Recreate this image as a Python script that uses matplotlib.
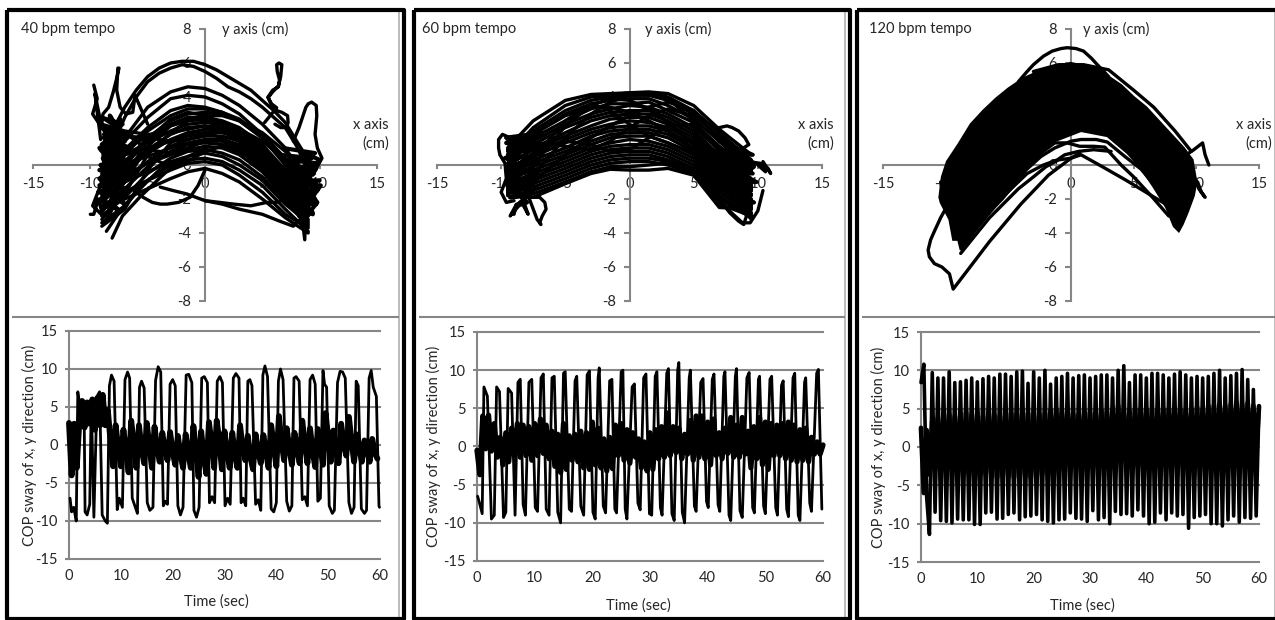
import matplotlib
matplotlib.use('Agg')
import matplotlib.pyplot as plt
from matplotlib.lines import Line2D
import numpy as np

W, H = 1275, 620
GREY = '#868686'
TXT = '#262626'
plt.rcParams['font.family'] = ['Lato', 'DejaVu Sans']
plt.rcParams['font.size'] = 10.5
plt.rcParams['axes.unicode_minus'] = False

x_ticks_top = [-15, -10, -5, 0, 5, 10, 15]
y_ticks_top = [-8, -6, -4, -2, 0, 2, 4, 6, 8]
t_ticks = [0, 10, 20, 30, 40, 50, 60]
y_ticks_low = [-15, -10, -5, 0, 5, 10, 15]

# ---- 40 bpm, x-y trace: heights of the sweeps at fixed x positions
p1_x = [-9, -7, -5, -3, -1.5, 0, 1.5, 3, 5, 7, 9]
p1_sweeps = [
    [-0.3, 1.6, 3.4, 4.3, 4.6, 4.5, 4.1, 3.5, 2.4, 1.0, -1.0],
    [-0.2, 1.4, 2.8, 3.9, 4.1, 4.0, 3.6, 3.0, 1.8, 0.4, -1.3],
    [-0.6, 0.9, 2.2, 3.2, 3.5, 3.4, 3.1, 2.6, 1.6, 0.2, -1.5],
    [-0.9, 0.6, 2.0, 2.9, 3.3, 3.3, 3.1, 2.7, 1.7, 0.1, -1.8],
    [-1.1, 0.2, 1.6, 2.6, 3.0, 3.1, 3.0, 2.6, 1.6, 0.0, -2.0],
    [-1.3, 0.0, 1.4, 2.4, 2.8, 2.8, 2.6, 2.2, 1.2, -0.3, -2.2],
    [-0.5, 0.9, 1.7, 2.3, 2.6, 2.7, 2.5, 2.0, 1.0, -0.4, -2.0],
    [-1.0, 0.6, 1.3, 2.0, 2.4, 2.5, 2.4, 2.0, 1.1, -0.5, -2.4],
    [-1.6, -0.2, 0.9, 1.8, 2.2, 2.3, 2.2, 1.8, 0.8, -0.7, -2.6],
    [-2.0, -0.4, 0.7, 1.5, 1.9, 2.1, 2.1, 1.8, 0.9, -0.9, -2.8],
    [-0.8, 0.6, 1.0, 1.4, 1.7, 1.9, 1.9, 1.6, 0.6, -1.0, -2.5],
    [-2.2, -1.0, 0.2, 1.1, 1.5, 1.7, 1.7, 1.4, 0.4, -1.2, -3.0],
    [-1.2, 0.1, 0.5, 1.0, 1.3, 1.5, 1.5, 1.2, 0.2, -1.4, -2.9],
    [-2.6, -1.4, -0.1, 0.8, 1.2, 1.3, 1.2, 0.8, -0.1, -1.7, -3.2],
    [-1.8, -0.6, 0.1, 0.6, 0.9, 1.1, 1.0, 0.6, -0.4, -1.9, -3.3],
    [-3.0, -1.9, -0.5, 0.4, 0.8, 0.9, 0.7, 0.3, -0.7, -2.1, -3.6],
    [-2.0, -1.0, -0.4, 0.2, 0.5, 0.7, 0.5, 0.0, -0.9, -2.3, -3.4],
    [-3.4, -2.4, -0.9, 0.0, 0.3, 0.4, 0.2, -0.3, -1.2, -2.6, -3.9],
    [-2.4, -1.6, -0.9, -0.3, 0.1, 0.2, 0.0, -0.6, -1.6, -2.9, -3.7],
    [-2.6, -2.0, -1.4, -0.8, -0.4, -0.2, -0.5, -1.0, -2.0, -3.1, -4.0],
    # sweeps that cross the others
    [-3.2, -1.7, 0.6, 1.9, 2.6, 2.9, 2.9, 2.6, 1.9, 0.8, -0.6],
    [2.4, 2.0, 1.8, 1.9, 2.1, 2.3, 2.0, 1.4, 0.2, -1.5, -3.0],
    [-2.8, -1.0, 1.1, 2.3, 2.7, 2.6, 2.2, 1.6, 0.5, -0.6, -1.2],
    [1.6, 1.7, 1.6, 1.4, 1.5, 1.8, 2.2, 2.1, 1.4, 0.3, -1.8],
    [-3.6, -2.6, -0.3, 1.3, 1.8, 1.9, 1.6, 1.0, 0.0, -0.9, -0.8],
    [2.8, 1.9, 0.9, 0.7, 1.0, 1.4, 1.4, 0.9, -0.3, -2.0, -3.5],
    [-1.5, -0.8, 1.5, 2.7, 3.1, 2.9, 2.5, 1.9, 0.6, -1.1, -1.9],
    [0.9, 1.1, 0.5, -0.1, 0.2, 0.8, 1.1, 0.8, 0.1, -1.2, -2.6],
]
p1_extra_x = [
    [-8.9, -8.0, -7.0, -6.0, -5.0, -4.0, -3.0, -2.0, -1.0, 0.0, 1.0, 2.0, 3.0, 4.0, 5.0, 6.0, 7.0, 8.0, 9.0],
    [-8.8, -8.0, -7.0, -6.0, -5.0, -4.0, -3.0, -2.0, -1.0, 0.0, 1.0, 2.0, 3.0, 4.0, 5.0, 6.0, 7.0, 8.0, 9.0],
    [-8.1, -7.2, -5.7, -3.3, -1.5, 0.2],
    [-8.6, -7.4, -6.0, -4.0, -2.0],
    [-6.2, -5.4, -4.6, -3.9, -3.3, -2.3, -1.3, -0.6, 0.0],
    [-3.9, -2.8, -1.6, 0.0, 1.5, 3.0, 5.0, 6.5, 7.7, 8.6],
    [0.0, 1.3, 2.5, 4.0, 5.4, 6.2, 7.0, 8.0],
    [-9.0, -8.9, -8.4, -8.0, -7.7, -7.5, -7.6, -7.7, -7.4, -6.9, -6.3, -6.2, -6.1, -5.0],
    [-9.7, -9.4, -9.8, -9.0, -9.6, -9.1],
    [-10.0, -9.7, -9.3, -8.9, -9.8, -9.0],
    [6.1, 6.6, 7.1, 7.25, 7.2, 6.7, 6.25, 5.8, 5.5, 5.9, 6.4, 6.5, 6.3, 6.25, 6.45, 6.7, 6.6, 6.4, 5.9, 5.5, 5.8, 6.25, 5.2],
    [7.7, 8.2, 8.6, 8.8, 9.0, 9.3, 9.7, 9.75, 9.6, 9.8, 10.2, 9.4],
    [8.9, 8.7, 8.3, 9.0],
]
p1_extra_y = [
    [0.6, 2.1, 3.4, 4.4, 5.2, 5.7, 6.0, 6.1, 6.1, 5.9, 5.6, 5.2, 4.8, 4.4, 3.8, 3.2, 2.5, 1.4, 0.3],
    [0.2, 1.2, 2.8, 4.0, 4.9, 5.4, 5.7, 5.9, 5.8, 5.5, 5.1, 4.6, 4.3, 3.9, 3.4, 2.8, 2.2, 1.1, -0.3],
    [-4.3, -3.0, -1.9, -0.35, 0.5, 1.0],
    [-3.9, -2.7, -1.6, -0.3, 0.4],
    [-1.5, -1.9, -2.2, -2.3, -2.3, -2.2, -1.9, -1.2, -0.3],
    [-1.3, -1.5, -1.7, -2.1, -2.3, -2.6, -2.9, -3.3, -3.6, -3.0],
    [-2.1, -2.2, -2.3, -2.4, -2.2, -2.2, -2.0, -1.5],
    [2.4, 3.0, 3.4, 4.3, 5.1, 5.7, 5.7, 4.4, 3.4, 3.0, 3.1, 3.6, 4.1, 2.4],
    [4.7, 3.9, 3.0, 2.2, 4.2, 1.5],
    [-2.9, -2.9, -2.0, -3.0, -2.4, -1.0],
    [2.4, 2.2, 2.2, 2.5, 2.9, 3.1, 3.2, 3.5, 4.0, 4.4, 4.6, 5.0, 5.5, 5.9, 6.0, 5.9, 5.2, 4.65, 4.3, 3.96, 3.6, 3.37, 2.5],
    [1.4, 2.2, 3.0, 3.4, 3.6, 3.7, 3.5, 2.9, 1.8, 1.0, 0.4, -0.6],
    [-1.0, -4.4, -2.2, -1.5],
]
p1_knot_left_x = [-9.1, -7.2, -8.8, -7.0, -9.2, -7.4, -8.6, -6.9, -9.2, -7.1, -8.9, -7.3, -9.3, -7.0, -8.4, -7.6,
                  -9.1, -7.1, -8.7, -7.2, -9.0, -7.5, -8.3, -7.8, -8.8, -7.1, -9.2, -7.6, -8.5, -7.9, -8.9, -8.1,
                  -9.0, -6.8, -8.2, -6.6, -8.8, -6.9, -9.1, -7.0, -8.6, -7.2, -9.2, -6.7, -8.3, -7.0, -8.8, -6.5,
                  -8.7, -7.4, -9.1, -7.7, -8.2, -7.0, -8.6, -6.8, -9.0, -7.3, -8.4, -7.5]
p1_knot_left_y = [2.8, 2.4, 1.8, 1.4, 1.0, 0.6, 0.2, 0.0, -0.3, -0.6, -1.0, -1.3, -1.6, -1.9, -2.4, -2.6,
                  -2.0, -1.0, -0.4, 0.5, 1.2, 2.0, 2.9, 2.2, 0.9, 0.2, -0.8, -1.8, -3.1, -1.2, 0.4, 1.6,
                  2.2, 1.9, 1.5, 1.0, 0.7, 0.3, 0.0, -0.4, -0.7, -1.1, -1.2, -1.5, -0.9, -0.2, 0.4, 0.9,
                  1.5, 2.7, 0.9, -0.1, -1.6, -2.3, -1.4, -0.6, -0.1, 0.6, 1.2, 1.8]
p1_knot_right_x = [6.8, 9.6, 7.2, 9.8, 7.0, 9.5, 7.6, 10.0, 7.4, 9.8, 7.8, 9.6, 8.0, 10.1, 8.2, 9.4,
                   7.4, 9.7, 7.8, 10.0, 8.4, 9.5, 8.6, 9.8, 6.6, 9.3, 7.0, 9.6, 6.4, 9.2, 7.3, 9.9, 6.9, 9.1,
                   7.6, 9.7, 7.1, 9.4]
p1_knot_right_y = [1.0, 0.7, 0.3, 0.1, -0.4, -0.5, -1.0, -0.9, -1.4, -1.5, -2.0, -2.0, -2.5, -1.2, -3.0, -2.8,
                   -1.8, -0.2, -1.2, 0.3, 0.8, -1.6, -3.2, -2.2, 0.6, 0.4, 0.0, -0.3, -0.3, -0.8, -0.7, -1.2, -1.2, -1.8,
                   -1.7, -2.3, -2.2, -2.9]

# ---- 60 bpm, x-y trace
p2_x = [-9.5, -7.5, -5, -3, -1.5, 0, 1.5, 3, 5, 7, 9.5]
p2_sweeps = [
    [1.0, 2.6, 3.8, 4.15, 4.2, 4.25, 4.3, 4.2, 3.5, 2.1, 0.6],
    [0.6, 2.2, 3.5, 4.0, 4.1, 4.25, 4.25, 4.0, 3.2, 1.9, 0.3],
    [0.8, 2.0, 3.2, 3.8, 4.0, 4.1, 4.1, 3.8, 3.0, 1.6, 0.0],
    [0.4, 1.8, 3.0, 3.6, 3.8, 3.9, 3.9, 3.5, 2.7, 1.4, -0.1],
    [0.5, 1.6, 2.6, 3.3, 3.6, 3.6, 3.7, 3.2, 2.5, 1.1, -0.3],
    [0.1, 1.4, 2.4, 3.0, 3.3, 3.5, 3.4, 3.0, 2.2, 0.9, -0.5],
    [0.3, 1.2, 2.2, 2.8, 3.1, 3.2, 3.2, 2.8, 2.0, 0.6, -0.8],
    [-0.1, 1.0, 1.9, 2.6, 2.9, 3.0, 3.0, 2.6, 1.8, 0.5, -1.0],
    [0.0, 0.9, 1.7, 2.3, 2.7, 2.8, 2.8, 2.4, 1.6, 0.3, -1.1],
    [-0.4, 0.7, 1.5, 2.1, 2.4, 2.6, 2.5, 2.2, 1.4, 0.1, -1.4],
    [-0.2, 0.5, 1.3, 1.9, 2.2, 2.3, 2.3, 2.0, 1.2, -0.1, -1.5],
    [-0.6, 0.3, 1.0, 1.7, 2.0, 2.1, 2.1, 1.8, 1.0, -0.3, -1.7],
    [-0.5, 0.1, 0.8, 1.4, 1.8, 1.9, 1.9, 1.6, 0.8, -0.5, -1.8],
    [-0.9, -0.1, 0.6, 1.2, 1.6, 1.7, 1.7, 1.3, 0.6, -0.7, -2.0],
    [-0.8, -0.3, 0.4, 1.0, 1.3, 1.5, 1.4, 1.1, 0.4, -0.8, -2.2],
    [-1.1, -0.5, 0.2, 0.8, 1.1, 1.2, 1.2, 0.9, 0.2, -1.0, -2.3],
    [-1.0, -0.7, 0.0, 0.6, 0.9, 1.0, 1.0, 0.7, 0.0, -1.2, -2.5],
    [-1.3, -0.9, -0.2, 0.4, 0.7, 0.8, 0.8, 0.5, -0.2, -1.4, -2.6],
    [-1.2, -1.1, -0.4, 0.2, 0.5, 0.6, 0.6, 0.3, -0.3, -1.6, -2.8],
    [-1.5, -1.3, -0.6, 0.0, 0.3, 0.4, 0.4, 0.2, -0.4, -1.8, -3.0],
    [-1.4, -1.5, -0.8, -0.2, 0.1, 0.2, 0.2, 0.0, -0.5, -2.0, -3.1],
    [-1.6, -1.7, -1.0, -0.4, -0.1, -0.1, 0.0, 0.1, -0.5, -2.3, -3.0],
    [-1.8, -1.9, -1.1, -0.5, -0.25, -0.3, -0.3, -0.2, -0.6, -2.5, -2.6],
    # sweeps that cross the others
    [-1.7, -0.6, 1.6, 3.0, 3.7, 4.1, 4.2, 3.9, 2.6, 0.8, -1.5],
    [1.4, 1.8, 2.9, 3.4, 3.4, 3.1, 2.6, 2.0, 0.9, -0.9, -2.9],
    [-1.2, 0.0, 2.3, 3.5, 3.9, 3.8, 3.3, 2.5, 1.2, -0.6, -2.4],
    [0.9, 1.3, 1.1, 0.9, 1.4, 2.2, 2.9, 3.3, 2.9, 1.7, 0.2],
    [-1.5, -1.0, 0.6, 1.6, 2.3, 2.9, 3.4, 3.7, 3.2, 1.4, -0.4],
    [0.6, 0.9, 1.4, 1.2, 0.8, 0.9, 1.6, 2.3, 2.4, 1.0, -1.2],
    [-0.7, 0.4, 2.6, 3.6, 3.2, 2.4, 1.7, 1.3, 0.7, -1.1, -3.2],
]
p2_extra_x = [
    [-8.0, -7.6, -7.0, -6.6, -6.5, -6.8, -7.0, -6.9, -7.2, -7.8],
    [-9.0, -9.6, -9.9, -10.2, -10.2, -10.1, -9.7, -9.6, -10.0, -9.6, -9.0],
    [6.0, 7.5, 8.8, 9.4, 10.0, 10.4],
    [5.8, 7.0, 7.8, 8.5, 8.9, 9.2],
    [9.2, 10.2, 10.8, 11.0, 10.4, 10.6, 10.0],
    [7.0, 7.6, 8.0, 8.5, 9.0, 9.3, 8.0],
    [-9.0, -8.8, -9.3, -8.4, -7.9, -8.6, -9.2],
]
p2_extra_y = [
    [-1.6, -1.9, -1.9, -2.2, -2.6, -3.0, -3.4, -3.5, -3.2, -2.0],
    [1.5, 1.7, 1.8, 1.5, 1.0, 0.6, 0.1, -0.8, -1.6, -2.2, -2.1],
    [-1.4, -2.5, -3.4, -3.4, -2.7, -1.5],
    [-0.9, -2.0, -2.8, -3.3, -3.5, -2.8],
    [0.2, 0.1, -0.2, -0.5, 0.2, -0.4, 0.0],
    [2.2, 2.3, 2.2, 2.0, 1.6, 1.2, 0.6],
    [-2.9, -2.3, -3.0, -2.2, -2.9, -1.4, -0.6],
]
p2_knot_left_x = [-9.6, -7.6, -9.4, -7.4, -9.7, -7.6, -9.3, -7.3, -9.5, -7.8, -9.0, -7.5, -9.3, -7.9, -8.8, -8.0,
                  -9.5, -7.0, -9.6, -6.8, -9.4, -7.1, -9.3, -6.9, -9.1, -7.2]
p2_knot_left_y = [1.6, 1.8, 1.0, 1.2, 0.4, 0.5, -0.2, -0.3, -0.7, -1.0, -1.3, -1.6, -1.9, -1.8, -2.4, -2.2,
                  -0.9, 0.8, 1.3, 1.9, 0.7, 0.2, 0.0, -0.6, -1.1, -1.3]
p2_knot_right_x = [7.0, 9.6, 7.3, 9.8, 7.6, 9.6, 7.8, 9.9, 7.5, 9.4, 8.0, 9.7, 8.4, 9.3,
                   7.2, 9.5, 7.0, 9.3, 7.6, 9.7]
p2_knot_right_y = [1.4, 0.6, 0.8, 0.1, 0.2, -0.5, -0.4, -1.0, -1.0, -1.7, -1.6, -2.2, -2.4, -2.8,
                   -0.8, -1.3, 0.4, -0.2, -1.3, -0.1]

# ---- 120 bpm, x-y trace: the overplotted core, then what stands out from it
p3_core_x = [-9.9, -9.0, -8.0, -7.0, -6.0, -5.0, -3.8, -2.6, -1.5, 0.0, 2.0, 3.0, 4.0, 5.0, 6.0, 7.0, 8.0, 9.0, 9.7, 10.0, 9.8,
             9.3, 8.9, 8.6, 8.2, 7.6, 6.6, 5.6, 4.5, 2.9, 0.8, -1.3, -3.4, -4.5, -6.0, -7.2, -8.8, -9.0, -9.4, -9.7, -10.4, -10.5, -10.3]
p3_core_y = [0.2, 1.2, 2.4, 3.2, 3.9, 4.5, 5.1, 5.5, 5.8, 6.0, 5.7, 5.2, 4.7, 4.0, 3.4, 2.6, 1.8, 1.0, 0.3, -1.0, -1.8,
             -2.8, -3.5, -3.9, -3.6, -2.5, -1.3, -0.2, 0.7, 1.7, 2.0, 1.4, 0.1, -1.2, -2.4, -3.5, -5.0, -4.4, -4.4, -3.2, -2.2, -1.9, -0.7]
p3_extra_x = [
    [-4.2, -3.5, -3.0, -2.2, -1.5, -0.8, -0.3, 0.4, 1.0, 1.6, 2.1, 3.0],
    [-3.0, -1.0, 1.0, 3.0, 5.0, 6.6, 8.3, 9.6],
    [9.0, 9.8, 10.5, 10.7, 11.0],
    [-8.0, -6.8, -5.5, -3.6, -2.4, -1.3, 0.0, 0.8, 2.0, 2.9, 4.3, 5.6, 7.0, 8.0, 8.6],
    [-7.8, -6.5, -5.2, -3.2, -2.2, -1.3, -0.3, 0.7, 1.8, 2.7, 4.0, 5.0, 6.5, 7.8],
    [-8.8, -7.6, -6.5, -4.2, -3.0, -2.0, -1.0, 0.0, 0.7],
    [-7.6, -5.5, -3.5, -2.2, -1.1, -0.5, 0.6, 1.8, 3.2],
    [8.0, 6.2, 4.4, 2.5, 0.8, 0.0, -1.8, -4.0, -6.5, -9.4, -9.7, -10.3, -10.9, -11.3, -11.4, -11.2, -10.9, -10.4, -9.8],
    [10.1, 10.4, 10.7, 10.2, 9.9],
    [-10.4, -10.1, -9.9, -9.6],
]
p3_extra_y = [
    [4.9, 5.5, 5.9, 6.4, 6.7, 6.85, 6.9, 6.85, 6.7, 6.3, 5.9, 5.2],
    [5.5, 5.9, 5.9, 5.6, 4.4, 3.4, 2.0, 0.8],
    [0.5, 0.9, 1.3, 0.6, 0.0],
    [-4.1, -3.0, -2.0, -0.3, 0.5, 1.0, 1.4, 1.5, 1.5, 1.35, 0.5, -0.25, -1.5, -2.9, -3.8],
    [-3.7, -2.6, -1.6, 0.1, 0.8, 1.3, 1.3, 1.1, 1.1, 1.05, 0.0, -0.7, -1.9, -3.0],
    [-5.2, -4.1, -3.1, -1.4, -0.7, -0.1, 0.3, 0.4, 0.7],
    [-3.4, -1.9, -0.5, 0.0, 0.3, 0.6, 0.8, 0.9, 0.8],
    [-2.5, -1.7, -0.9, -0.1, 0.6, 0.4, -0.6, -2.3, -4.5, -7.3, -6.4, -6.0, -5.8, -5.4, -5.0, -4.4, -3.9, -3.1, -2.3],
    [-1.0, -1.6, -1.9, -1.4, -0.8],
    [-1.0, -2.2, -2.2, -1.0],
]

# ---- x sway against time
x1_t = [0.2, 0.5, 0.9, 1.4, 1.7, 2.1, 2.9, 3.1, 3.5, 4.0, 4.3, 4.8, 5.4, 5.9, 6.4, 7.0, 7.4, 7.8, 8.2, 8.7,
        9.3, 9.7, 10.3, 10.8, 11.3, 11.7, 12.2, 12.7, 13.2, 13.6, 14.0, 14.5, 15.1, 15.6, 16.2, 16.7, 17.2, 17.7,
        18.2, 18.6, 19.0, 19.5, 20.0, 20.5, 21.0, 21.5, 22.0, 22.6, 23.1, 23.7, 24.1, 24.6, 25.1, 25.6, 26.1, 26.7,
        27.1, 27.6, 28.1, 28.6, 29.1, 29.6, 30.1, 30.6, 31.1, 31.7, 32.2, 32.8, 33.2, 33.6, 34.1, 34.5, 34.9, 35.3,
        36.0, 36.5, 37.0, 37.4, 37.8, 38.3, 39.0, 39.5, 40.0, 40.4, 40.8, 41.3, 42.0, 42.5, 43.0, 43.4, 43.8, 44.4,
        45.0, 45.5, 46.0, 46.5, 47.0, 47.5, 48.0, 48.5, 49.0, 49.3, 49.7, 50.2, 50.8, 51.2, 51.8, 52.3, 52.8, 53.3,
        54.0, 54.5, 55.0, 55.4, 55.8, 56.4, 57.0, 57.4, 57.9, 58.3, 58.7, 59.3, 59.8, 59.9]
x1_v = [-7.0, -8.8, -8.2, -10.0, 7.0, 5.0, 5.8, -8.8, -9.2, -7.8, 6.0, -9.5, 6.4, 7.0, -9.2, -10.0, -10.3, 7.8, 9.2, 8.4,
        -8.5, -7.0, -8.2, 8.6, 9.6, 8.8, -7.0, -8.0, -9.0, 7.6, 8.4, 7.5, -7.6, -8.6, -8.2, 8.5, 10.3, 9.6,
        -8.0, -7.4, -7.8, 8.0, 8.6, 7.8, -8.0, -9.2, -8.2, 9.2, 9.3, 8.2, -8.6, -9.5, -8.2, 8.8, 9.0, 8.2,
        -7.6, -6.8, -7.6, 8.4, 9.0, 8.2, -8.0, -7.0, -7.8, 8.8, 9.4, 8.8, -7.6, -7.0, -8.0, 8.4, 8.6, 7.8,
        -7.8, -7.2, -8.6, 9.2, 10.4, 9.0, -8.4, -8.8, -7.6, 8.4, 10.0, 8.6, -7.4, -8.7, -8.0, 8.8, 9.0, 8.4,
        -7.2, -6.8, -8.0, 8.6, 9.2, 8.0, -7.4, -7.0, 9.8, 8.0, 7.6, -8.0, -9.0, -8.6, 8.2, 9.7, 9.6,
        8.8, -7.6, -9.0, -8.2, 8.4, 7.8, -8.4, -9.0, -8.6, 8.8, 9.8, 7.6, 6.4, -8.0, -8.2][:124]
x2_t = [0.1, 0.4, 0.9, 1.2, 1.8, 2.5, 3.0, 3.4, 3.9, 4.6, 5.0, 5.4, 6.0, 6.6, 7.1, 7.5, 8.0, 8.4, 9.0, 9.5, 10.1, 10.5,
        11.1, 11.5, 12.0, 12.5, 13.0, 13.4, 14.0, 14.5, 15.0, 15.3, 16.0, 16.4, 17.0, 17.3, 18.0, 18.5, 19.1, 19.5,
        20.1, 20.5, 21.0, 21.2, 21.9, 22.3, 23.0, 23.4, 23.9, 24.2, 25.0, 25.3, 25.7, 26.0, 26.9, 27.3, 27.9, 28.3,
        28.9, 29.3, 29.9, 30.3, 30.9, 31.2, 31.8, 32.1, 32.9, 33.2, 33.8, 34.2, 34.8, 35.0, 35.6, 36.0, 36.8, 37.0,
        37.7, 38.0, 38.8, 39.2, 39.8, 40.1, 40.8, 41.1, 41.8, 42.1, 42.8, 43.0, 43.7, 44.0, 44.8, 45.0, 45.6, 46.0,
        46.8, 47.2, 47.8, 48.1, 48.8, 49.0, 49.7, 50.0, 50.8, 51.1, 51.8, 52.1, 52.8, 53.1, 53.7, 54.0, 54.8, 55.1,
        55.7, 56.0, 56.8, 57.0, 57.7, 58.0, 58.9, 59.2, 59.8]
x2_v = [-6.5, -7.3, -8.8, 7.8, 6.6, -9.5, -9.0, 7.8, 7.2, -9.3, -8.6, 7.6, 7.0, -9.0, 8.4, 8.8, -7.6, -9.0, 8.4, 8.8, -8.0, -8.5,
        9.0, 9.5, -8.2, -9.0, 9.0, 9.2, -8.6, -10.0, 9.6, 9.8, -8.2, -8.5, 8.6, 9.2, -7.8, -9.0, 9.4, 9.9,
        -8.6, -9.5, 9.0, 10.3, -7.8, -8.7, 8.6, 8.8, -8.2, -8.7, 9.8, 10.0, -8.2, -9.5, 7.8, 8.2, -7.4, -8.3,
        9.0, 9.5, -8.8, -9.0, 9.2, 9.8, -8.0, -9.0, 9.6, 10.2, -8.8, -9.7, 10.0, 11.0, -8.6, -10.0, 9.0, 10.0,
        -7.8, -8.5, 8.4, 8.9, -7.2, -8.0, 8.8, 9.5, -7.6, -8.5, 9.2, 9.8, -9.0, -9.7, 9.2, 10.2, -8.4, -9.3,
        9.0, 9.7, -8.0, -8.7, 8.8, 9.2, -7.8, -8.8, 8.8, 9.2, -8.0, -9.0, 8.0, 8.6, -8.2, -9.2, 9.0, 9.6,
        -9.0, -9.7, 8.4, 9.0, -7.4, -8.5, 9.6, 10.1, -8.2]
# 120 bpm: readings every half second, top and bottom of each swing
x3_v = [8.4, 10.8, -6.5, -11.4, 9.7, -8.5, 9.0, -9.6, 9.0, -9.7, 9.8, -9.9, 8.4, -9.4, 8.5, -9.5, 8.7, -9.5, 9.0, -10.1,
        8.5, -10.1, 8.9, -8.6, 9.2, -8.5, 9.0, -9.4, 9.5, -9.3, 9.5, -8.8, 9.2, -8.6, 9.8, -9.5, 9.9, -9.1, 8.3, -9.0,
        9.8, -8.8, 9.0, -9.5, 10.0, -9.7, 8.2, -9.9, 9.0, -9.5, 9.2, -9.4, 9.6, -8.6, 9.0, -9.3, 9.3, -9.4, 9.4, -9.7,
        9.0, -8.3, 9.2, -9.5, 9.4, -9.2, 9.4, -10.0, 9.0, -8.4, 10.0, -8.8, 10.6, -8.7, 8.4, -9.0, 9.4, -8.2, 9.4, -9.0,
        9.0, -10.0, 9.6, -9.8, 9.6, -8.6, 9.4, -9.5, 9.0, -8.6, 9.5, -9.0, 9.8, -8.8, 9.4, -10.6, 9.0, -9.2, 9.2, -9.0,
        9.0, -8.8, 9.2, -10.0, 9.6, -10.0, 10.0, -10.3, 9.0, -9.5, 9.3, -9.0, 9.6, -9.8, 10.1, -9.2, 8.8, -9.3, 7.5, -9.0,
        5.4]

# ---- y sway against time, readings every half second
y1_v = [2.9, -4.0, 2.8, -3.0, 3.2, 5.8, 2.3, 5.6, 2.8, 6.0, 2.0, 6.2, 2.6, 6.6, 2.6,
        4.6, 0.5, -2.8, 2.6, -0.4, -2.8, 2.0, -0.8, -3.6, 3.2, 0.2, -3.0, 2.6, -0.5, -2.4,
        2.9, -0.1, -3.0, 2.4, -0.4, -2.2, 1.6, -0.6, -2.0, 1.7, -0.9, -2.6, 1.2, -1.2, -3.0,
        1.4, -1.0, -3.0, 2.5, -0.8, -4.2, 1.8, -1.5, -3.8, 3.0, 0.2, -3.0, 3.2, 0.5, -3.2,
        1.8, -0.9, -3.0, 1.6, -1.3, -3.0, 2.6, -0.4, -2.0, 1.2, -1.6, -3.2, 1.4, -0.8, -2.4,
        1.3, -0.9, -3.0, 2.6, 0.0, -2.8, 3.8, 0.4, -2.0, 2.2, -0.4, -2.6, 1.6, -0.5, -2.4,
        3.2, 0.2, -2.4, 2.2, -0.8, -2.9, 2.1, -0.3, -2.6, 4.2, 1.0, -2.2, 1.9, -0.8, -2.4,
        2.8, 0.2, -1.4, 3.7, 0.6, -2.2, 1.4, -0.4, -2.2, 0.6, -0.6, -2.2, 0.8, -1.0, -1.8]
y2_v = [-0.5, -3.7, 4.0, -0.3, 4.1, -0.6, 3.0, -1.4, 1.2, -2.4, 1.8, -2.0, 2.4, -1.2, 3.0, -1.4, 2.8, -1.2, 2.6, -1.8,
        3.0, -1.2, 3.6, -0.9, 2.8, -1.6, 2.0, -2.6, 1.6, -3.4, 3.0, -3.0, 1.4, -1.8, 1.6, -2.0, 2.0, -2.8, 1.8, -3.0,
        3.2, -2.4, 2.4, -2.8, 1.0, -3.2, 1.2, -2.9, 2.8, -1.2, 3.0, -1.8, 2.2, -2.2, 1.8, -1.4, 1.0, -2.8, 0.6, -3.2,
        1.8, -3.0, 2.2, -1.6, 2.6, -1.4, 4.4, -1.2, 2.6, -0.8, 2.4, -1.6, 1.6, -1.0, 3.4, -1.8, 4.0, -1.4, 4.0, -1.6,
        3.2, -2.4, 3.6, -1.2, 1.8, -1.6, 2.4, -0.9, 3.8, -1.4, 2.8, -1.4, 3.8, -1.0, 2.0, -2.8, 2.6, -1.6, 3.8, -2.4,
        3.2, -3.0, 3.0, -1.2, 2.8, -1.2, 3.0, -1.6, 3.2, -1.8, 2.8, -2.0, 2.2, -1.8, 2.4, -2.0, 1.2, -1.0, 0.6, -1.0, 0.2]
y3_v = [2.5, -6.0, 2.2, -3.6, 3.4, -2.8, 3.8, -3.4, 4.2, -3.0, 4.3, -3.0, 4.0, -3.4, 4.4, -3.2, 4.6, -3.5, 4.2, -3.4,
        4.6, -3.7, 4.0, -3.5, 4.4, -3.8, 4.2, -4.0, 4.0, -3.6, 4.2, -3.8, 4.4, -4.0, 4.2, -3.8, 4.6, -3.8, 4.4, -4.0,
        4.0, -3.8, 4.2, -3.6, 4.4, -3.2, 4.8, -2.6, 5.0, -1.6, 4.6, -1.8, 4.6, -1.8, 4.4, -2.0, 4.2, -2.2, 4.6, -2.2,
        4.5, -2.2, 4.4, -2.4, 4.8, -2.6, 4.6, -2.4, 5.0, -2.2, 5.4, -1.8, 4.6, -2.0, 4.6, -2.6, 5.0, -2.6, 5.0, -3.0,
        5.0, -2.6, 4.8, -2.8, 4.8, -2.2, 5.0, -2.4, 5.0, -2.2, 5.2, -2.6, 5.0, -2.4, 4.8, -2.0, 5.0, -2.0, 5.2, -2.2,
        5.0, -2.2, 5.4, -1.8, 5.4, -2.4, 5.6, -1.6, 5.4, -1.8, 5.6, -1.6, 5.8, -1.4, 5.6, -1.2, 5.8, -1.2, 5.4, -0.8, 5.3]
half_second = 0.5

fig = plt.figure(figsize=(W / 100, H / 100), dpi=100, facecolor='white')


def axes_px(left, right, top, bottom):
    return fig.add_axes([left / W, 1 - bottom / H, (right - left) / W, (bottom - top) / H], facecolor='none')


def label_px(x, y, s, **kw):
    fig.text(x / W, 1 - y / H, s, color=TXT, va='center', **kw)


def line_px(x, y, color, lw):
    fig.add_artist(Line2D([v / W for v in x], [1 - v / H for v in y], color=color, lw=lw, solid_capstyle='butt'))


def top_axes(left, right, title, title_x, yaxis_x, xaxis_x):
    ax = axes_px(left, right, 29, 301)
    ax.set_xlim(-15, 15)
    ax.set_ylim(-8, 8)
    ax.set_axisbelow(True)
    for side in ['top', 'right']:
        ax.spines[side].set_visible(False)
    for side in ['left', 'bottom']:
        ax.spines[side].set_position('zero')
        ax.spines[side].set_color(GREY)
        ax.spines[side].set_linewidth(1.5)
        ax.spines[side].set_zorder(0.6)
    ax.set_xticks(x_ticks_top)
    ax.set_xticklabels([str(v) for v in x_ticks_top])
    ax.set_yticks(y_ticks_top)
    ax.set_yticklabels([str(v) for v in y_ticks_top])
    ax.tick_params(axis='x', direction='out', length=3, width=1.5, color=GREY, labelcolor=TXT, pad=6)
    ax.tick_params(axis='y', direction='out', length=4, width=1.5, color=GREY, labelcolor=TXT, pad=6)
    label_px(title_x, 29, title)
    label_px(yaxis_x, 29, 'y axis (cm)')
    label_px(xaxis_x, 125, 'x axis', ha='right')
    label_px(xaxis_x, 144, '(cm)', ha='right')
    return ax


def low_axes(left, right, top, bottom, ylabel_x, xlabel_x, xlabel_y):
    ax = axes_px(left, right, top, bottom)
    ax.set_xlim(0, 60)
    ax.set_ylim(-15, 15)
    ax.set_axisbelow(True)
    for side in ['top', 'right', 'bottom']:
        ax.spines[side].set_visible(False)
    ax.spines['left'].set_color(GREY)
    ax.spines['left'].set_linewidth(1.5)
    ax.spines['left'].set_zorder(0.6)
    ax.set_xticks(t_ticks)
    ax.set_yticks(y_ticks_low)
    ax.set_yticklabels([str(v) for v in y_ticks_low])
    ax.tick_params(axis='x', length=0, labelcolor=TXT, pad=7)
    ax.tick_params(axis='y', direction='out', length=3, width=1.5, color=GREY, labelcolor=TXT, pad=5)
    ax.grid(axis='y', color=GREY, lw=1.5)
    for g in ax.get_ygridlines():
        g.set_clip_on(False)
    label_px(ylabel_x, (top + bottom) / 2, 'COP sway of x, y direction (cm)', rotation=90, ha='center')
    label_px(xlabel_x, xlabel_y, 'Time (sec)', ha='center')
    return ax


def trace(ax, x, y, lw=2.4):
    ax.plot(x, y, color='black', lw=lw, solid_joinstyle='round', solid_capstyle='round', clip_on=False)


# frames
for left, right in [(7, 404), (414, 850), (857, 1280)]:
    line_px([right - 5, right - 5], [12, 618], '#b0b0b0', 1.2)
    line_px([left + 5, right - 5], [316.5, 316.5], GREY, 1.5)
    line_px([left, right, right, left, left], [10, 10, 619, 619, 10], 'black', 3)

ax = top_axes(33, 377, '40 bpm tempo', 21, 222, 389)
for row in p1_sweeps:
    trace(ax, p1_x, row)
for xs, ys in zip(p1_extra_x, p1_extra_y):
    trace(ax, xs, ys)
trace(ax, p1_knot_left_x, p1_knot_left_y, lw=3.2)
trace(ax, p1_knot_right_x, p1_knot_right_y, lw=3.0)

ax = top_axes(437, 822, '60 bpm tempo', 422, 645, 834)
for row in p2_sweeps:
    trace(ax, p2_x, row)
for xs, ys in zip(p2_extra_x, p2_extra_y):
    trace(ax, xs, ys)
trace(ax, p2_knot_left_x, p2_knot_left_y, lw=3.2)
trace(ax, p2_knot_right_x, p2_knot_right_y, lw=3.0)

ax = top_axes(883, 1259, '120 bpm tempo', 869, 1083, 1272)
ax.fill(p3_core_x, p3_core_y, color='black', lw=1.5)
for xs, ys in zip(p3_extra_x, p3_extra_y):
    trace(ax, xs, ys)

ax = low_axes(69, 380, 331, 559, 29, 216, 602)
trace(ax, x1_t, x1_v, lw=2.0)
trace(ax, np.arange(len(y1_v)) * half_second, y1_v, lw=4.2)

ax = low_axes(477, 823, 332, 561, 433, 638, 606)
trace(ax, x2_t, x2_v, lw=2.0)
trace(ax, np.arange(len(y2_v)) * half_second, y2_v, lw=3.8)

ax = low_axes(921, 1259, 332, 562, 878, 1082, 606)
trace(ax, np.arange(len(x3_v)) * half_second, x3_v, lw=2.6)
trace(ax, np.arange(len(y3_v)) * half_second, y3_v, lw=3.4)

fig.savefig('out.png', dpi=100)
